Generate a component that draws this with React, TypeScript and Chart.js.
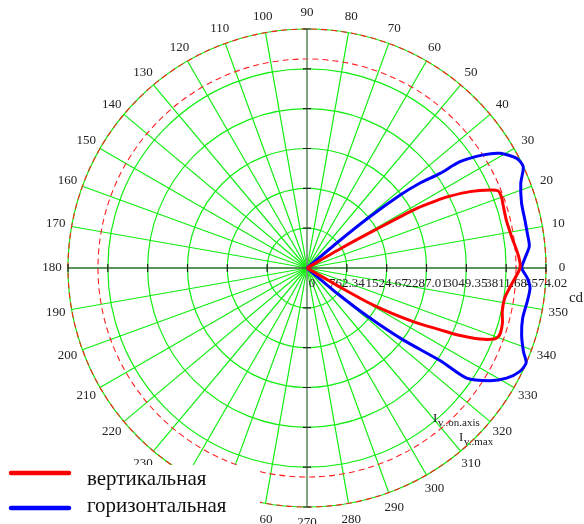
import React, { useEffect, useRef } from "react";
import { Chart, registerables } from "chart.js";
Chart.register(...registerables);

// ---- data ----
const R_MAX = 4574.02;
const GRID_STEPS = 6;
const ANGLE_TICKS = [0, 10, 20, 30, 40, 50, 60, 70, 80, 90, 100, 110, 120, 130, 140, 150, 160, 170, 180, 190, 200, 210, 220, 230, 240, 250, 260, 270, 280, 290, 300, 310, 320, 330, 340, 350];
const IV_ON_AXIS = 4000;
const IV_MAX = 4574.02;
const SERIES_NAMES = ["вертикальная", "горизонтальная"];
const UNIT_LABEL = "cd";

// вертикальная (red)
const redAngles = [-31, -30, -29.2, -26.8, -24.9, -24, -22.3, -20.6, -19.1, -15.7, -12.5, -8.6, -4.7, 0, 3.1, 8.7, 13.5, 17.8, 20.1, 22, 23.1, 25.1, 26.7, 27.3, 28.5, 29.2, 30, 31];
const redValues = [0, 766, 1454, 2277, 2813, 3139, 3579, 3847, 3904, 3885, 3828, 3828, 3923, 4076, 4057, 3962, 3923, 3942, 3962, 3942, 3808, 3445, 3062, 2871, 2392, 1454, 766, 0];

// горизонтальная (blue)
const blueAngles = [-41, -40, -38.5, -36.8, -34.8, -34.6, -31.6, -28.9, -25.9, -23.4, -21.1, -17.3, -13, -8.6, -5.1, -2.6, 0, 2.5, 5.6, 9, 12.4, 16.8, 21.6, 25.1, 27.6, 30.7, 32.7, 34.8, 35.4, 37, 38.1, 39.2, 40, 41];
const blueValues = [0, 766, 1531, 2297, 3119, 3713, 4115, 4363, 4530, 4570, 4440, 4302, 4237, 4264, 4285, 4220, 4110, 4172, 4275, 4268, 4270, 4290, 4400, 4570, 4530, 4300, 4008, 3565, 3125, 2680, 2258, 1550, 766, 0];

const toXY = (angles: number[], values: number[]) =>
  angles.map((a, i) => {
    const t = (a * Math.PI) / 180;
    return { x: values[i] * Math.cos(t), y: values[i] * Math.sin(t) };
  });

const GREEN = "#10ee10";
const SERIF = "'Liberation Serif', 'Times New Roman', serif";

const polarPlugin = {
  id: "polarGrid",
  beforeDatasetsDraw(chart: any) {
    const { ctx, scales } = chart;
    const x = scales.x, y = scales.y;
    const cx = x.getPixelForValue(0);
    const cy = y.getPixelForValue(0);
    const pr = (v: number) => x.getPixelForValue(v) - cx;
    const R = pr(R_MAX);
    ctx.save();
    // green circles
    ctx.strokeStyle = GREEN;
    ctx.lineWidth = 1.2;
    for (let k = 1; k <= GRID_STEPS; k++) {
      ctx.beginPath();
      ctx.arc(cx, cy, pr((R_MAX * k) / GRID_STEPS), 0, Math.PI * 2);
      ctx.stroke();
    }
    // radial lines
    for (const a of ANGLE_TICKS) {
      const t = (a * Math.PI) / 180;
      ctx.beginPath();
      ctx.moveTo(cx, cy);
      ctx.lineTo(cx + R * Math.cos(t), cy - R * Math.sin(t));
      ctx.stroke();
    }
    // red dashed circles
    ctx.strokeStyle = "#ff2020";
    ctx.lineWidth = 1.1;
    ctx.setLineDash([6, 4]);
    for (const v of [IV_ON_AXIS, IV_MAX]) {
      ctx.beginPath();
      ctx.arc(cx, cy, pr(v), 0, Math.PI * 2);
      ctx.stroke();
    }
    ctx.setLineDash([]);
    // axes
    ctx.strokeStyle = "#333";
    ctx.lineWidth = 1.2;
    ctx.beginPath();
    ctx.moveTo(cx - R, cy);
    ctx.lineTo(cx + R, cy);
    ctx.stroke();
    ctx.strokeStyle = "#888";
    ctx.lineWidth = 1.5;
    ctx.beginPath();
    ctx.moveTo(cx, cy - R);
    ctx.lineTo(cx, cy + R);
    ctx.stroke();
    // ticks
    ctx.strokeStyle = "#222";
    ctx.lineWidth = 1.2;
    for (let k = 1; k <= GRID_STEPS; k++) {
      const d = pr((R_MAX * k) / GRID_STEPS);
      ctx.beginPath();
      ctx.moveTo(cx + d, cy - 4); ctx.lineTo(cx + d, cy + 4);
      ctx.moveTo(cx - d, cy - 4); ctx.lineTo(cx - d, cy + 4);
      ctx.moveTo(cx - 4, cy + d); ctx.lineTo(cx + 4, cy + d);
      ctx.moveTo(cx - 4, cy - d); ctx.lineTo(cx + 4, cy - d);
      ctx.stroke();
    }
    // angle labels
    ctx.fillStyle = "#222";
    ctx.font = `13px ${SERIF}`;
    ctx.textAlign = "center";
    ctx.textBaseline = "middle";
    const LR = R + 16;
    for (const a of ANGLE_TICKS) {
      const t = (a * Math.PI) / 180;
      ctx.fillText(String(a), cx + LR * Math.cos(t), cy - LR * Math.sin(t));
    }
    // radial tick value labels
    ctx.fillText("0", cx + 5, cy + 16);
    for (let k = 1; k <= GRID_STEPS; k++) {
      const v = (R_MAX * k) / GRID_STEPS;
      ctx.fillText(v.toFixed(2), cx + pr(v), cy + 16);
    }
    // unit
    ctx.font = `15px ${SERIF}`;
    ctx.fillText(UNIT_LABEL, cx + R + 30, cy + 30);
    // Iv labels
    ctx.textAlign = "left";
    ctx.textBaseline = "alphabetic";
    ctx.font = `13px ${SERIF}`;
    ctx.fillText("I", cx + 126, cy + 154);
    ctx.fillText("I", cx + 152, cy + 173);
    ctx.font = `11px ${SERIF}`;
    ctx.fillText("v..on.axis", cx + 131, cy + 158);
    ctx.fillText("v..max", cx + 157, cy + 177);
    ctx.restore();
  },
  afterDraw(chart: any) {
    const { ctx } = chart;
    ctx.save();
    ctx.fillStyle = "#ffffff";
    ctx.fillRect(0, 465, 260, 59);
    ctx.lineCap = "round";
    ctx.lineWidth = 4.5;
    ctx.strokeStyle = "#ff0000";
    ctx.beginPath(); ctx.moveTo(11, 473); ctx.lineTo(69, 473); ctx.stroke();
    ctx.strokeStyle = "#0000ff";
    ctx.beginPath(); ctx.moveTo(11, 508); ctx.lineTo(69, 508); ctx.stroke();
    ctx.fillStyle = "#111";
    ctx.font = `21px ${SERIF}`;
    ctx.textAlign = "left";
    ctx.textBaseline = "alphabetic";
    ctx.fillText(SERIES_NAMES[0], 87, 485);
    ctx.fillText(SERIES_NAMES[1], 87, 512);
    ctx.restore();
  },
};

export default function App() {
  const ref = useRef<HTMLCanvasElement>(null);
  useEffect(() => {
    if (!ref.current) return;
    const chart = new Chart(ref.current, {
      type: "scatter",
      data: {
        datasets: [
          {
            label: SERIES_NAMES[0],
            data: toXY(redAngles, redValues),
            showLine: true,
            borderColor: "#ff0000",
            borderWidth: 3,
            pointRadius: 0,
            tension: 0.25,
            fill: false,
            clip: false as any,
          },
          {
            label: SERIES_NAMES[1],
            data: toXY(blueAngles, blueValues),
            showLine: true,
            borderColor: "#0000ff",
            borderWidth: 3,
            pointRadius: 0,
            tension: 0.25,
            fill: false,
            clip: false as any,
          },
        ],
      },
      options: {
        animation: false,
        responsive: false,
        devicePixelRatio: 1,
        layout: { padding: { left: 68, right: 38, top: 29, bottom: 17 } },
        scales: {
          x: { type: "linear", min: -R_MAX, max: R_MAX, display: false },
          y: { type: "linear", min: -R_MAX, max: R_MAX, display: false },
        },
        plugins: { legend: { display: false }, tooltip: { enabled: false } },
      },
      plugins: [polarPlugin],
    });
    return () => chart.destroy();
  }, []);
  return (
    <div style={{ position: "fixed", left: 0, top: 0, width: 584, height: 524, background: "#fff" }}>
      <canvas ref={ref} width={584} height={524} />
    </div>
  );
}
